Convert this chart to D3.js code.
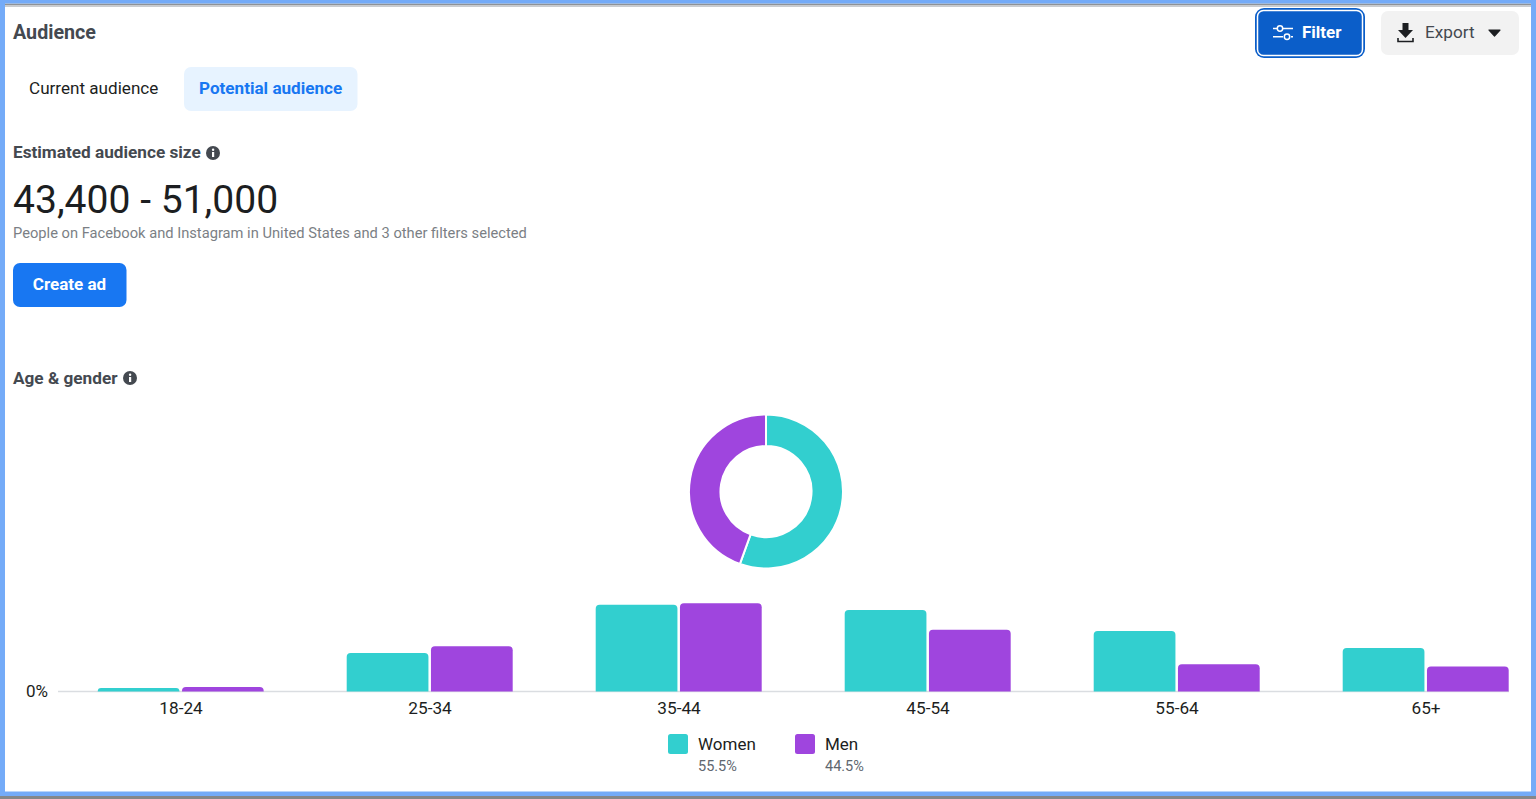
<!DOCTYPE html>
<html>
<head>
<meta charset="utf-8">
<title>Audience</title>
<script src="https://cdn.jsdelivr.net/npm/d3@7"></script>
<style>
	html, body { margin: 0; padding: 0; background: #fff; overflow: hidden; }
	svg { display: block; font-family: Roboto, sans-serif; }
</style>
</head>
<body>
<script>
// chart values (% of audience)
const ageGroups = ["18-24", "25-34", "35-44", "45-54", "55-64", "65+"];
const genders = ["Women", "Men"];
const women = [0.6, 6.8, 15.3, 14.4, 10.7, 7.7];
const men = [0.8, 8.0, 15.6, 10.9, 4.8, 4.4];
const genderShare = [55.5, 44.5];
const genderColors = ["#32cfcf", "#9f45de"];
const yTicks = [0];

const width = 1536;
const height = 799;

const svg = d3
	.select("body")
	.append("svg")
	.attr("width", width)
	.attr("height", height)
	.attr("viewBox", [0, 0, width, height]);

function box(x, y, w, h, fill, rx = 0) {
	return svg.append("rect")
		.attr("x", x)
		.attr("y", y)
		.attr("width", w)
		.attr("height", h)
		.attr("rx", rx)
		.attr("fill", fill);
}

// * WINDOW FRAME
box(0, 0, width, height, "#fff");
box(5, 3.5, 1526, 1.5, "#8f9296");
box(5, 5, 1526, 2, "#c9ccd0");
box(0, 0, width, 3.5, "#74abf8");
box(0, 0, 5, 796, "#74abf8");
box(1531, 0, 5, 796, "#74abf8");
box(0, 791.5, width, 4.5, "#74abf8");
box(0, 796, width, 3, "#85878a");

// helper for plain text
function label(x, y, str, size, weight, fill, anchor = "start") {
	return svg.append("text")
		.attr("x", x)
		.attr("y", y)
		.attr("font-size", size)
		.attr("font-weight", weight)
		.attr("fill", fill)
		.attr("text-anchor", anchor)
		.text(str);
}

function infoIcon(cx, cy) {
	svg.append("circle").attr("cx", cx).attr("cy", cy).attr("r", 7).attr("fill", "#444950");
	box(cx - 1, cy - 1, 2.2, 5, "#fff");
	svg.append("circle").attr("cx", cx + 0.1).attr("cy", cy - 3.2).attr("r", 1.2).attr("fill", "#fff");
}

// * HEADER
label(13, 38.5, "Audience", 19.7, 700, "#444950");

box(1255, 8, 110, 50, "#0b5ec9", 9);
box(1257.5, 10.5, 105, 45, "#0b5ec9", 6)
	.attr("stroke", "#fff")
	.attr("stroke-width", 1.5);
const sliders = svg.append("g").attr("fill", "none").attr("stroke", "#fff").attr("stroke-width", 1.5);
sliders.append("path").attr("d", "M1273 28.5h4M1283 28.5h10M1273 36.7h10M1291 36.7h2");
sliders.append("circle").attr("cx", 1280).attr("cy", 28.5).attr("r", 2.7);
sliders.append("circle").attr("cx", 1287).attr("cy", 36.7).attr("r", 2.7);
label(1302, 38, "Filter", 17, 700, "#fff");

box(1381, 11, 138, 44, "#f2f2f2", 7);
svg.append("path")
	.attr("d", "M1402.5 23h6v7h4.5l-7.5 8-7.5-8h4.5z")
	.attr("fill", "#1c1e21");
svg.append("path")
	.attr("d", "M1398 38v3.5h15v-3.5")
	.attr("fill", "none")
	.attr("stroke", "#1c1e21")
	.attr("stroke-width", 1.6);
label(1425, 38, "Export", 17.2, 400, "#444950");
svg.append("path")
	.attr("d", "M1489 30h11l-5.5 6z")
	.attr("fill", "#1c1e21")
	.attr("stroke", "#1c1e21")
	.attr("stroke-width", 1.2)
	.attr("stroke-linejoin", "round");

// * TABS
label(29, 94, "Current audience", 17.1, 400, "#1c1e21");
box(184, 67, 173.5, 44, "#e7f3ff", 7);
label(199, 94, "Potential audience", 17.1, 700, "#1877f2");

// * AUDIENCE SIZE
label(13, 158, "Estimated audience size", 17.2, 700, "#444950");
infoIcon(213, 153);
label(13, 212.5, "43,400 - 51,000", 39.1, 400, "#1c1e21");
label(13, 238, "People on Facebook and Instagram in United States and 3 other filters selected", 14.7, 400, "#7b7f85");
box(13, 263, 113.5, 44, "#1877f2", 7);
label(69.5, 290, "Create ad", 17, 700, "#fff", "middle");
label(13, 383.5, "Age & gender", 17.2, 700, "#444950");
infoIcon(130, 378);

// * DONUT
const pie = d3.pie().sort(null)(genderShare);
const arc = d3.arc().innerRadius(45.5).outerRadius(77);
svg.append("g")
	.attr("transform", "translate(766,491.5)")
	.selectAll("path")
	.data(pie)
	.join("path")
	.attr("d", arc)
	.attr("fill", (d, i) => genderColors[i])
	.attr("stroke", "#fff")
	.attr("stroke-width", 2);

// * GROUPED BARS
const baseline = 691.5;
const x = d3.scaleBand().domain(ageGroups).range([56.5, 1550.5]);
const xInner = d3.scaleBand().domain(genders).range([41.2, 207.2]).paddingInner(0.03);
// 100% of the audience spread over the bars' pixel scale
const y = d3.scaleLinear().domain([0, 100]).range([baseline, baseline - 566.5]);

const topRounded = (px, py, w, h, r) => {
	const c = Math.min(r, h);
	return `M${px},${py + h}V${py + c}Q${px},${py} ${px + c},${py}H${px + w - c}Q${px + w},${py} ${px + w},${py + c}V${py + h}Z`;
};

// baseline
svg.append("line")
	.attr("x1", 58)
	.attr("x2", 1509)
	.attr("y1", baseline)
	.attr("y2", baseline)
	.attr("stroke", "#dadde1")
	.attr("stroke-width", 1.5);

const groups = svg.append("g")
	.selectAll("g")
	.data(ageGroups)
	.join("g")
	.attr("transform", (d) => `translate(${x(d)},0)`);

groups.selectAll("path")
	.data((d, i) => [
		{ key: "Women", value: women[i] },
		{ key: "Men", value: men[i] },
	])
	.join("path")
	.attr("d", (d) =>
		topRounded(xInner(d.key), y(d.value), xInner.bandwidth(), baseline - y(d.value), 4)
	)
	.attr("fill", (d) => genderColors[genders.indexOf(d.key)]);

// x axis labels
const xAxis = svg.append("g")
	.attr("transform", `translate(0,${baseline})`)
	.call(d3.axisBottom(x).tickSize(0).tickPadding(10.5))
	.call((g) => g.select(".domain").remove());
xAxis.selectAll("text")
	.attr("font-size", 17.2)
	.attr("font-family", "Roboto, sans-serif")
	.attr("fill", "#1c1e21");

// y axis label
const yAxis = svg.append("g")
	.attr("transform", "translate(58,0)")
	.call(d3.axisLeft(y).tickValues(yTicks).tickFormat((d) => d + "%").tickSize(0).tickPadding(10))
	.call((g) => g.select(".domain").remove());
yAxis.selectAll("text")
	.attr("font-size", 17)
	.attr("font-family", "Roboto, sans-serif")
	.attr("fill", "#1c1e21");

// * LEGEND
const legendX = [668, 795];
genders.forEach((g, i) => {
	box(legendX[i], 734, 20, 20, genderColors[i], 2.5);
	label(legendX[i] + 30, 750, g, 17, 400, "#1c1e21");
	label(legendX[i] + 30, 771, genderShare[i] + "%", 14.5, 400, "#606770");
});
</script>
</body>
</html>
